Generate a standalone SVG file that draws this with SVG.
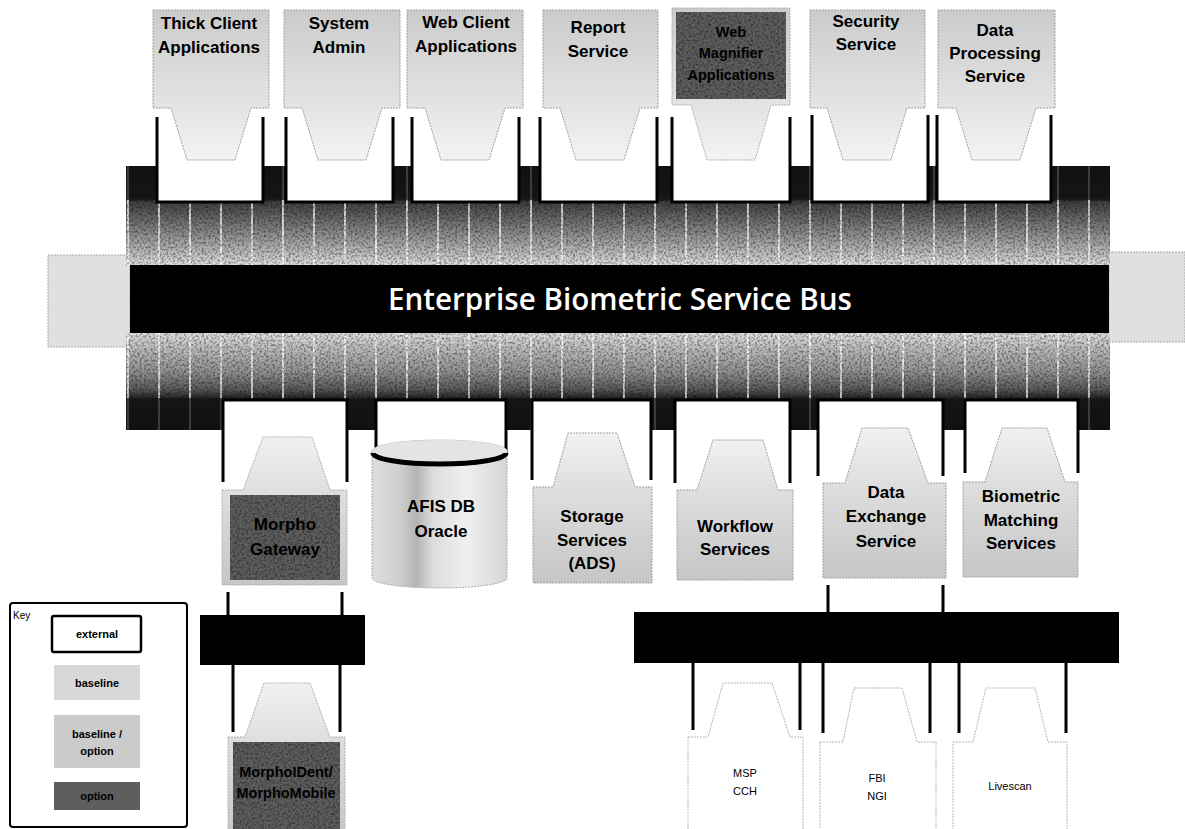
<svg xmlns="http://www.w3.org/2000/svg" width="1185" height="829" viewBox="0 0 1185 829">
<defs>
<style>
.lbl{font-family:"Liberation Sans",Arial,sans-serif;font-weight:bold;font-size:17px;text-anchor:middle;fill:#000}
.mid{font-size:14.5px}
.sm{font-size:11px;font-weight:normal}
.key{font-size:11px}
.sock{fill:#fff;stroke:#000;stroke-width:3}
.base{fill:url(#gTop);stroke:#a0a0a0;stroke-width:1;stroke-dasharray:2 1}
.baseb{fill:url(#gBot);stroke:#a0a0a0;stroke-width:1;stroke-dasharray:2 1}
.frame{stroke:#b0b0b0;stroke-width:1;stroke-dasharray:2 1}
.opt{fill:#5e5e5e}
.ext{fill:#fff;stroke:#b4b4b4;stroke-width:1;stroke-dasharray:2 1}
.conn{stroke:#000;stroke-width:3;fill:none}
.stub{fill:#e0e0e0;stroke:#aaa;stroke-width:1;stroke-dasharray:2 1}
</style>
<linearGradient id="gTop" x1="0" y1="0" x2="0" y2="1">
<stop offset="0" stop-color="#cbcbcb"/><stop offset="0.55" stop-color="#e0e0e0"/><stop offset="1" stop-color="#f3f3f3"/>
</linearGradient>
<linearGradient id="gBot" x1="0" y1="0" x2="0" y2="1">
<stop offset="0" stop-color="#f1f1f1"/><stop offset="0.4" stop-color="#dddddd"/><stop offset="1" stop-color="#c6c6c6"/>
</linearGradient>
<linearGradient id="gBandTop" x1="0" y1="166" x2="0" y2="266" gradientUnits="userSpaceOnUse">
<stop offset="0" stop-color="#111"/><stop offset="0.33" stop-color="#151515"/><stop offset="0.36" stop-color="#404040"/><stop offset="0.55" stop-color="#6e6e6e"/><stop offset="0.75" stop-color="#a0a0a0"/><stop offset="0.92" stop-color="#cccccc"/><stop offset="1" stop-color="#e4e4e4"/>
</linearGradient>
<linearGradient id="gBandBot" x1="0" y1="333" x2="0" y2="430" gradientUnits="userSpaceOnUse">
<stop offset="0" stop-color="#e2e2e2"/><stop offset="0.15" stop-color="#c0c0c0"/><stop offset="0.4" stop-color="#929292"/><stop offset="0.58" stop-color="#5a5a5a"/><stop offset="0.66" stop-color="#2c2c2c"/><stop offset="0.68" stop-color="#141414"/><stop offset="1" stop-color="#111"/>
</linearGradient>
<linearGradient id="gCyl" x1="0" y1="0" x2="1" y2="0">
<stop offset="0" stop-color="#dedede"/><stop offset="0.2" stop-color="#cfcfcf"/><stop offset="0.33" stop-color="#b4b4b4"/><stop offset="0.45" stop-color="#dcdcdc"/><stop offset="0.7" stop-color="#f0f0f0"/><stop offset="1" stop-color="#d6d6d6"/>
</linearGradient>
<pattern id="vlines" x="158" y="0" width="31" height="20" patternUnits="userSpaceOnUse">
<rect x="0" y="0" width="2" height="20" fill="#fff" fill-opacity="0.7"/>
</pattern>
<filter id="grain" x="0" y="0" width="1" height="1">
<feTurbulence type="fractalNoise" baseFrequency="0.45" numOctaves="2" seed="5" result="n"/>
<feColorMatrix in="n" type="matrix" values="0 0 0 0 0 0 0 0 0 0 0 0 0 0 0 0 0 0 1.1 -0.45"/>
<feComposite in2="SourceAlpha" operator="in"/>
</filter>
</defs>
<rect width="1185" height="829" fill="#fff"/>

<g id="bus">
<rect class="stub" x="48" y="255" width="82" height="92"/>
<rect class="stub" x="1109" y="252" width="76" height="90"/>
<rect x="126" y="166" width="984" height="100" fill="url(#gBandTop)"/>
<rect x="126" y="333" width="984" height="97" fill="url(#gBandBot)"/>
<rect x="126" y="200" width="984" height="66" fill="url(#vlines)"/>
<rect x="126" y="333" width="984" height="65" fill="url(#vlines)"/>
<rect x="126" y="166" width="984" height="34" fill="url(#vlines)" opacity="0.25"/>
<rect x="126" y="398" width="984" height="32" fill="url(#vlines)" opacity="0.25"/>
<rect x="126" y="200" width="984" height="66" fill="#000" filter="url(#grain)"/>
<rect x="126" y="333" width="984" height="65" fill="#000" filter="url(#grain)"/>
<rect x="130" y="265" width="979" height="68" fill="#000"/>
<text x="620" y="310" font-family="'Open Sans','DejaVu Sans',sans-serif" font-weight="600" font-size="30" fill="#fff" text-anchor="middle" textLength="464" lengthAdjust="spacingAndGlyphs">Enterprise Biometric Service Bus</text>
</g>

<g id="thick-client">
<path class="sock" d="M157,117 V202 H263 V117"/>
<path class="base" d="M153,10 H269 V108 H251 L235,160 H187 L171,108 H153 Z"/>
<text class="lbl" x="209" y="29">Thick Client</text>
<text class="lbl" x="209" y="53">Applications</text>
</g>
<g id="system-admin">
<path class="sock" d="M286,117 V202 H393 V117"/>
<path class="base" d="M284,10 H400 V108 H382 L366,160 H318 L302,108 H284 Z"/>
<text class="lbl" x="339" y="29">System</text>
<text class="lbl" x="339" y="53">Admin</text>
</g>
<g id="web-client">
<path class="sock" d="M412,117 V202 H519 V117"/>
<path class="base" d="M407,10 H523 V108 H505 L489,160 H441 L425,108 H407 Z"/>
<text class="lbl" x="466" y="28">Web Client</text>
<text class="lbl" x="466" y="52">Applications</text>
</g>
<g id="report-service">
<path class="sock" d="M540,117 V202 H657 V117"/>
<path class="base" d="M543,10 H658 V108 H640 L624,160 H576 L560,108 H543 Z"/>
<text class="lbl" x="598" y="33">Report</text>
<text class="lbl" x="598" y="57">Service</text>
</g>
<g id="web-magnifier">
<path class="sock" d="M672,117 V202 H790 V117"/>
<path class="frame" d="M672,8 H790 V105 H771 L755,160 H707 L691,105 H672 Z" fill="url(#gTop)"/>
<rect class="opt" x="676" y="12" width="110" height="87"/>
<rect x="676" y="12" width="110" height="87" fill="#000" filter="url(#grain)"/>
<text class="lbl mid" x="731" y="37">Web</text>
<text class="lbl mid" x="731" y="58">Magnifier</text>
<text class="lbl mid" x="731" y="80">Applications</text>
</g>
<g id="security-service">
<path class="sock" d="M812,115 V202 H928 V115"/>
<path class="base" d="M810,10 H925 V108 H907 L891,160 H843 L827,108 H810 Z"/>
<text class="lbl" x="866" y="27">Security</text>
<text class="lbl" x="866" y="50">Service</text>
</g>
<g id="data-processing">
<path class="sock" d="M937,115 V202 H1051 V115"/>
<path class="base" d="M938,10 H1055 V108 H1036 L1020,160 H972 L956,108 H938 Z"/>
<text class="lbl" x="995" y="36">Data</text>
<text class="lbl" x="995" y="59">Processing</text>
<text class="lbl" x="995" y="82">Service</text>
</g>

<g id="morpho-gateway">
<path class="sock" d="M223,482 V400 H347 V482"/>
<path class="frame" d="M222,490 H243 L263,437 H312 L330,490 H347 V585 H222 Z" fill="url(#gBot)"/>
<rect class="opt" x="230" y="495" width="110" height="85"/>
<rect x="230" y="495" width="110" height="85" fill="#000" filter="url(#grain)"/>
<text class="lbl" x="285" y="530">Morpho</text>
<text class="lbl" x="285" y="555">Gateway</text>
</g>
<g id="afis-db">
<path class="sock" d="M376,456 V400 H506 V456"/>
<path d="M372,451 V578 A67.5,10 0 0 0 507,578 V451 A67.5,11 0 0 0 372,451 Z" fill="url(#gCyl)" stroke="#aaa" stroke-width="1" stroke-dasharray="2 1"/>
<ellipse cx="439.5" cy="451" rx="67.5" ry="11" fill="#e4e4e4"/>
<path d="M373,453 A66.5,11 0 0 0 506,453" fill="none" stroke="#000" stroke-width="5"/>
<text class="lbl" x="441" y="512">AFIS DB</text>
<text class="lbl" x="441" y="537">Oracle</text>
</g>
<g id="storage-services">
<path class="sock" d="M532,480 V400 H651 V480"/>
<path class="baseb" d="M533,487 H553 L568,433 H617 L635,487 H652 V583 H533 Z"/>
<text class="lbl" x="592" y="522">Storage</text>
<text class="lbl" x="592" y="546">Services</text>
<text class="lbl" x="592" y="569">(ADS)</text>
</g>
<g id="workflow-services">
<path class="sock" d="M675,483 V400 H790 V483"/>
<path class="baseb" d="M677,490 H697 L713,440 H763 L778,490 H793 V580 H677 Z"/>
<text class="lbl" x="735" y="532">Workflow</text>
<text class="lbl" x="735" y="555">Services</text>
</g>
<g id="data-exchange">
<path class="sock" d="M818,476 V400 H943 V476"/>
<path class="baseb" d="M823,483 H845 L862,428 H908 L928,483 H946 V578 H823 Z"/>
<text class="lbl" x="886" y="498">Data</text>
<text class="lbl" x="886" y="522">Exchange</text>
<text class="lbl" x="886" y="547">Service</text>
</g>
<g id="biometric-matching">
<path class="sock" d="M965,473 V400 H1078 V473"/>
<path class="baseb" d="M963,482 H985 L1002,428 H1047 L1065,482 H1078 V577 H963 Z"/>
<text class="lbl" x="1021" y="502">Biometric</text>
<text class="lbl" x="1021" y="526">Matching</text>
<text class="lbl" x="1021" y="549">Services</text>
</g>

<g id="gateway-link">
<rect x="200" y="615" width="165" height="50" fill="#000"/>
</g>
<g id="external-link">
<rect x="634" y="612" width="485" height="51" fill="#000"/>
</g>

<g id="morphoident">
<path class="frame" d="M228,737 H245 L264,683 H310 L330,737 H345 V835 H228 Z" fill="url(#gBot)"/>
<rect class="opt" x="233" y="742" width="107" height="93"/>
<rect x="233" y="742" width="107" height="87" fill="#000" filter="url(#grain)"/>
<text class="lbl mid" x="286" y="777">MorphoIDent/</text>
<text class="lbl mid" x="286" y="798">MorphoMobile</text>
</g>
<g id="msp-cch">
<path class="ext" d="M688,737 H708 L723,683 H772 L790,737 H803 V835 H688 Z"/>
<text class="lbl sm" x="745" y="777">MSP</text>
<text class="lbl sm" x="745" y="795">CCH</text>
</g>
<g id="fbi-ngi">
<path class="ext" d="M820,742 H843 L854,688 H902 L917,742 H936 V835 H820 Z"/>
<text class="lbl sm" x="877" y="782">FBI</text>
<text class="lbl sm" x="877" y="800">NGI</text>
</g>
<g id="livescan">
<path class="ext" d="M953,742 H973 L986,688 H1035 L1048,742 H1067 V835 H953 Z"/>
<text class="lbl sm" x="1010" y="790">Livescan</text>
</g>

<g id="connectors">
<path class="conn" d="M228,592 V615 M342,592 V615 M233,665 V732 M340,665 V732"/>
<path class="conn" d="M828,585 V612 M943,585 V612"/>
<path class="conn" d="M693,663 V730 M800,663 V730 M823,663 V733 M930,663 V733 M959,663 V733 M1066,663 V733"/>
</g>

<g id="key">
<rect x="10" y="603" width="177" height="224" rx="3" fill="#fff" stroke="#000" stroke-width="2"/>
<text x="13" y="619" font-family="'Liberation Sans',Arial,sans-serif" font-size="10">Key</text>
<rect x="52" y="616" width="89" height="36" rx="2" fill="#fff" stroke="#000" stroke-width="2.5"/>
<text class="lbl key" x="97" y="638" font-weight="normal">external</text>
<rect x="54" y="665" width="86" height="35" fill="#d8d8d8"/>
<text class="lbl key" x="97" y="687">baseline</text>
<rect x="54" y="715" width="86" height="53" fill="#cbcbcb"/>
<text class="lbl key" x="97" y="738">baseline /</text>
<text class="lbl key" x="97" y="755">option</text>
<rect class="opt" x="54" y="782" width="86" height="28"/>
<text class="lbl key" x="97" y="800">option</text>
</g>
</svg>
